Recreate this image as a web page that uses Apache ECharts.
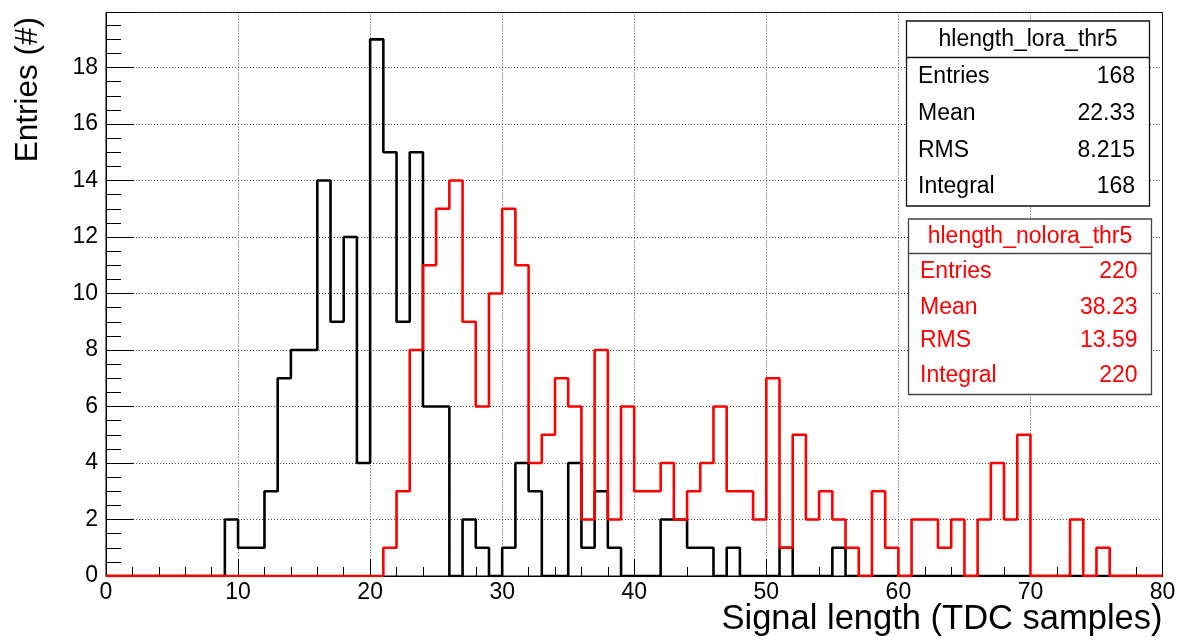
<!DOCTYPE html>
<html>
<head>
<meta charset="utf-8">
<script src="https://cdn.jsdelivr.net/npm/echarts@6/dist/echarts.min.js"></script>
<style>
html,body{margin:0;padding:0;background:#fff;}
#chart{width:1179px;height:640px;}
</style>
</head>
<body>
<div id="chart"></div>
<script>
// Bin contents, bins of width 1 from 0 to 80 (bin i covers [i, i+1))
const loraCounts = [
  0,0,0,0,0,0,0,0,0,
  2,1,1,3,7,8,8,14,9,12,
  4,19,15,9,15,6,6,0,2,1,
  0,1,4,3,0,0,4,1,3,1,
  0,0,0,2,2,1,1,0,1,0,
  0,0,1,0,0,0,1,0,0,0,
  0,0,0,0,0,0,0,0,0,0,0,0,0,0,0,0,0,0,0,0,0
];
const noloraCounts = [
  0,0,0,0,0,0,0,0,0,0,0,0,0,0,0,0,0,0,0,0,0,
  1,3,8,11,13,14,9,6,10,13,
  11,4,5,7,6,2,8,2,6,3,
  3,4,2,3,4,6,3,3,2,7,
  1,5,2,3,2,1,0,3,1,0,
  2,2,1,2,0,2,4,2,5,0,
  0,0,2,0,1,0,0,0,0
];
const statLabels = ['Entries', 'Mean', 'RMS', 'Integral'];
const loraStats = ['168', '22.33', '8.215', '168'];
const noloraStats = ['220', '38.23', '13.59', '220'];
const loraName = 'hlength_lora_thr5';
const noloraName = 'hlength_nolora_thr5';
const xTitle = 'Signal length (TDC samples)';
const yTitle = 'Entries (#)';

function stepData(counts) {
  const d = counts.map((v, i) => [i, v]);
  d.push([counts.length, counts[counts.length - 1]]);
  return d;
}

const FONT = '"Liberation Sans", Arial, Helvetica, sans-serif';

function statsBox(x, y, w, h, sepY, titleY, rowYs, labelX, valueX, name, values, color, border) {
  const els = [
    {type: 'rect', z: 100, shape: {x: x, y: y, width: w, height: h},
     style: {fill: '#fff', stroke: border, lineWidth: 1.3}},
    {type: 'line', z: 101, shape: {x1: x, y1: sepY, x2: x + w, y2: sepY},
     style: {stroke: border, lineWidth: 1.3}},
    {type: 'text', z: 101, x: x + w / 2, y: titleY,
     style: {text: name, fontSize: 23, fontFamily: FONT, fill: color, align: 'center', verticalAlign: 'middle'}}
  ];
  statLabels.forEach((lab, i) => {
    els.push({type: 'text', z: 101, x: labelX, y: rowYs[i],
      style: {text: lab, fontSize: 23, fontFamily: FONT, fill: color, align: 'left', verticalAlign: 'middle'}});
    els.push({type: 'text', z: 101, x: valueX, y: rowYs[i],
      style: {text: values[i], fontSize: 23, fontFamily: FONT, fill: color, align: 'right', verticalAlign: 'middle'}});
  });
  return els;
}

const chart = echarts.init(document.getElementById('chart'), null, {renderer: 'canvas'});
const gridLine = {show: true, lineStyle: {color: '#444', width: 1, type: [1, 2]}};

const option = {
  animation: false,
  backgroundColor: '#fff',
  grid: {left: 106, top: 12.5, width: 1056.5, height: 563.5, show: true, borderColor: '#000', borderWidth: 1, backgroundColor: 'transparent'},
  xAxis: {
    type: 'value', min: 0, max: 80, interval: 10,
    axisLine: {show: true, onZero: false, lineStyle: {color: '#000', width: 1}},
    axisTick: {show: true, inside: true, length: 17, lineStyle: {color: '#000', width: 1}},
    minorTick: {show: true, splitNumber: 5, length: 9, lineStyle: {color: '#000', width: 1}},
    axisLabel: {color: '#000', fontSize: 23, fontFamily: FONT, margin: 5},
    splitLine: gridLine
  },
  yAxis: {
    type: 'value', min: 0, max: 19.95, interval: 2,
    axisLine: {show: true, onZero: false, lineStyle: {color: '#000', width: 1}},
    axisTick: {show: true, inside: true, length: 28, lineStyle: {color: '#000', width: 1}},
    minorTick: {show: true, splitNumber: 4, length: 15, lineStyle: {color: '#000', width: 1}},
    axisLabel: {color: '#000', fontSize: 23, fontFamily: FONT, margin: 8, showMaxLabel: false},
    splitLine: gridLine
  },
  series: [
    {name: loraName, type: 'line', step: 'end', symbol: 'none', data: stepData(loraCounts),
     lineStyle: {color: '#000', width: 2.6}, z: 3},
    {name: noloraName, type: 'line', step: 'end', symbol: 'none', data: stepData(noloraCounts),
     lineStyle: {color: '#ff0000', width: 2.6}, z: 4}
  ],
  graphic: [
    {type: 'text', z: 50, x: 1162.5, y: 619,
     style: {text: xTitle, fontSize: 34.5, fontFamily: FONT, fill: '#000', align: 'right', verticalAlign: 'middle'}},
    {type: 'text', z: 50, x: 28, y: 17, rotation: Math.PI / 2,
     style: {text: yTitle, fontSize: 31.5, fontFamily: FONT, fill: '#000', align: 'right', verticalAlign: 'middle'}}
  ].concat(
    statsBox(906.5, 21, 243, 185, 57.5, 40, [76.5, 114, 151, 186.5], 918, 1135, loraName, loraStats, '#000', '#111'),
    statsBox(908.5, 219, 243, 175.5, 253.5, 236.5, [271.5, 307.5, 341, 375.5], 920, 1137.5, noloraName, noloraStats, '#ff0000', '#444')
  )
};
chart.setOption(option);
</script>
</body>
</html>
